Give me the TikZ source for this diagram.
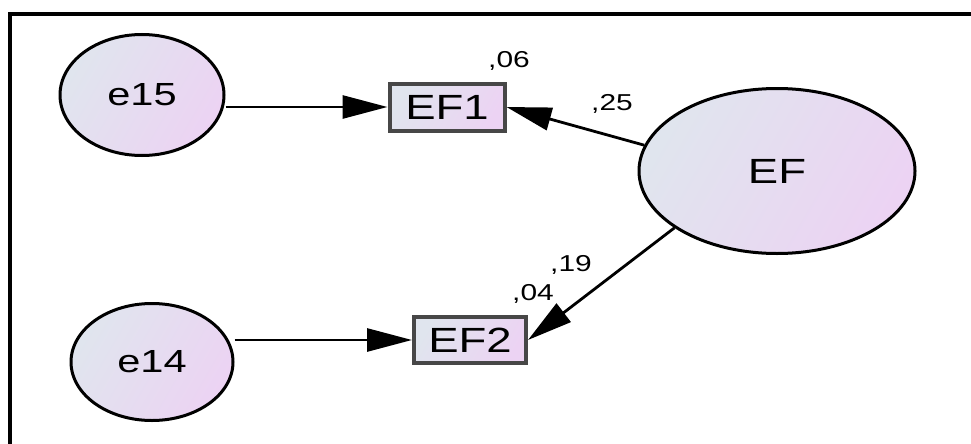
\documentclass[tikz,border=0pt]{standalone}
\usepackage{fontspec}
\setmainfont{Liberation Sans}
\usepackage{graphicx}
\usetikzlibrary{shapes.geometric,arrows.meta}
\definecolor{gA}{HTML}{E0E5EE}
\definecolor{gB}{HTML}{ECD3F3}
\newcommand{\sx}[1]{\scalebox{1.3}[1]{#1}}
\tikzset{
  latent/.style={ellipse, draw=black, line width=3pt, inner sep=0pt,
    left color=gA, right color=gB, shading angle=60},
  observed/.style={rectangle, draw=black!72, line width=4pt, inner sep=0pt,
    left color=gA, right color=gB, shading angle=60},
  path/.style={line width=2.8pt, -{Triangle[length=45pt,width=23pt]}},
  coef/.style={inner sep=0pt, font=\fontsize{23}{23}\selectfont},
}
\begin{document}
\begin{tikzpicture}[x=1pt,y=-1pt]
\useasboundingbox (0,0) rectangle (971,444);
\fill[white] (0,0) rectangle (971,444);
% frame
\draw[line width=4pt] (10,450) -- (10,14) -- (980,14);
% nodes
\node[latent, minimum width=164pt, minimum height=121pt,
  font=\fontsize{32}{32}\selectfont] (e15) at (142,95) {\sx{e15}};
\node[latent, minimum width=162pt, minimum height=117pt,
  font=\fontsize{32}{32}\selectfont] (e14) at (152,362) {\sx{e14}};
\node[latent, minimum width=276pt, minimum height=165pt,
  font=\fontsize{35}{35}\selectfont] (EF) at (777,171) {\sx{EF}};
\node[observed, minimum width=115pt, minimum height=47pt,
  font=\fontsize{35}{35}\selectfont] (EF1) at (447,107) {\sx{EF1}};
\node[observed, minimum width=112pt, minimum height=46pt,
  font=\fontsize{35}{35}\selectfont] (EF2) at (470,340) {\sx{EF2}};
% connectors
\draw[path] (e15.east |- EF1.west) -- (EF1.west);
\draw[path] (e14.east |- EF2.west) -- (EF2.west);
\draw[path] (EF.169) -- (EF1.east);
\draw[path] (EF.209) -- (EF2.east);
% coefficients
\node[coef] (r1) at (509,61) {\sx{,06}};
\node[coef] (w1) at (612,104) {\sx{,25}};
\node[coef] (w2) at (571,265) {\sx{,19}};
\node[coef] (r2) at (533,294) {\sx{,04}};
\end{tikzpicture}
\end{document}
